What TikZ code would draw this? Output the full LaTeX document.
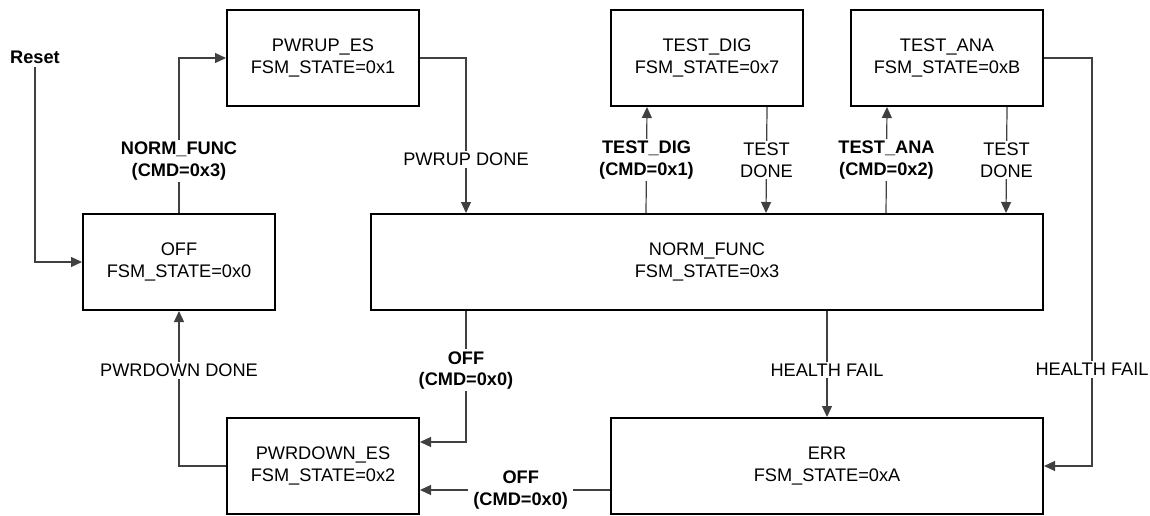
\documentclass[tikz,border=0pt]{standalone}
\usepackage{fontspec}
\setmainfont{Liberation Sans}
\usetikzlibrary{arrows.meta}

\begin{document}
\begin{tikzpicture}[x=1pt, y=-1pt, font=\fontsize{18.2}{21.5}\selectfont,
  state/.style={draw, line width=2pt, minimum width=192pt, minimum height=96pt, align=center, inner sep=0pt},
  trans/.style={draw=black!75, line width=1.2pt, -{Triangle[length=11pt,width=10pt]}},
  cond/.style={fill=white, align=center, inner xsep=5pt, inner ysep=2pt},
  bcond/.style={cond, font=\fontsize{18.2}{21.5}\selectfont\bfseries}]
  \useasboundingbox (0,0) rectangle (1150,516);
  % states, 1 unit = 1 px of the 1150 x 516 layout
  \node[state] (off) at (179,262) {OFF\\FSM\_STATE=0x0};
  \node[state] (pwrup) at (323,58) {PWRUP\_ES\\FSM\_STATE=0x1};
  \node[state] (testdig) at (707,58) {TEST\_DIG\\FSM\_STATE=0x7};
  \node[state] (testana) at (947,58) {TEST\_ANA\\FSM\_STATE=0xB};
  \node[state, minimum width=672pt] (norm) at (707,262) {NORM\_FUNC\\FSM\_STATE=0x3};
  \node[state] (pwrdown) at (323,466) {PWRDOWN\_ES\\FSM\_STATE=0x2};
  \node[state, minimum width=432pt] (err) at (827,466) {ERR\\FSM\_STATE=0xA};
  \node[font=\fontsize{18.2}{21.5}\selectfont\bfseries] (reset) at (35,57) {Reset};
  % transitions
  \draw[trans] (reset.south) |- (off.west);
  \draw[trans] (off.north) |- node[bcond, pos=0.167] (cmdnorm) {NORM\_FUNC\\(CMD=0x3)} (pwrup.west);
  \draw[trans] (pwrup.east) -| node[cond, pos=0.827] (pwrupdone) {PWRUP DONE} ([xshift=96pt]norm.north west);
  \draw[trans] ([xshift=276pt]norm.north west) -- node[bcond] (cmddig) {TEST\_DIG\\(CMD=0x1)} ([xshift=-60pt]testdig.south);
  \draw[trans] ([xshift=60pt]testdig.south) -- node[cond] (digdone) {TEST\\DONE} ([xshift=396pt]norm.north west);
  \draw[trans] ([xshift=516pt]norm.north west) -- node[bcond] (cmdana) {TEST\_ANA\\(CMD=0x2)} ([xshift=-60pt]testana.south);
  \draw[trans] ([xshift=60pt]testana.south) -- node[cond] (anadone) {TEST\\DONE} ([xshift=636pt]norm.north west);
  \draw[trans] (testana.east) -| node[cond, pos=0.882] (anafail) {HEALTH FAIL} ([xshift=48pt]err.east) -- (err.east);
  \draw[trans] (err.north |- norm.south) -- node[cond, pos=0.556] (normfail) {HEALTH FAIL} (err.north);
  \draw[trans] ([xshift=96pt]norm.south west) |- node[bcond, pos=0.227] (cmdoff) {OFF\\(CMD=0x0)} ([yshift=24pt]pwrdown.east);
  \draw[trans] ([yshift=-24pt]err.west) -- node[bcond, pos=0.47] (erroff) {OFF\\(CMD=0x0)} ([yshift=-24pt]pwrdown.east);
  \draw[trans] (pwrdown.west) -| node[cond, pos=0.808] (pwrdowndone) {PWRDOWN DONE} (off.south);
\end{tikzpicture}
\end{document}
